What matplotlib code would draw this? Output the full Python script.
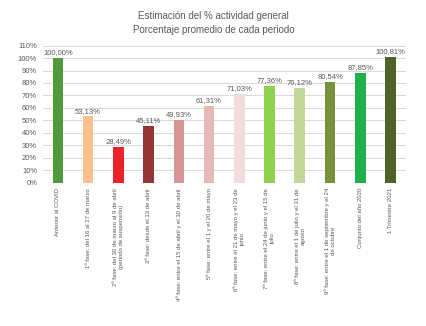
import numpy as np
import matplotlib.pyplot as plt

plt.rcParams['font.family'] = ['Liberation Sans', 'DejaVu Sans']

categorias = [
    "Anterior al COVID",
    "1ª fase: del 16 al 27 de marzo",
    "2ª fase: del 30 de marzo al 9 de abril\n(periodo de suspensión)",
    "3ª fase: desde el 13 de abril",
    "4ª fase: entre el 15 de abril y el 30 de abril",
    "5ª fase: entre el 1 y el 20 de mayo",
    "6ª fase: entre el 21 de mayo y el 23 de\njunio",
    "7ª fase: entre el 24 de junio y el 15 de\njulio",
    "8ª fase: entre el 1 de julio y el 31 de\nagosto",
    "9ª fase: entre el 1 de septiembre y el 24\nde octubre",
    "Conjunto del año 2020",
    "1 Trimestre 2021",
]
valores = [100.00, 53.13, 28.49, 45.11, 49.93, 61.31, 71.03, 77.36, 76.12, 80.54, 87.85, 100.81]
colores = ["#4F9A3A", "#FBC08F", "#E8242A", "#943634", "#D99594", "#E6B8B7",
           "#F2DCDB", "#92D050", "#C4D79B", "#76933C", "#1FB24B", "#4F6228"]

fig = plt.figure(figsize=(4.27, 3.26), dpi=100)
ax = fig.add_axes([0.10, 0.44, 0.85, 0.42])

x = np.arange(len(valores))
ax.bar(x, valores, width=0.35, color=colores, zorder=3)
for xi, v in zip(x, valores):
    ax.text(xi, v + 1.5, f"{v:.2f}%".replace(".", ","), ha="center", va="bottom",
            fontsize=5.5, color="#595959")

ax.set_ylim(0, 110)
ax.set_yticks(range(0, 111, 10))
ax.set_yticklabels([f"{t}%" for t in range(0, 111, 10)], fontsize=5.5, color="#595959")
ax.set_xlim(-0.5, len(valores) - 0.5)
ax.set_xticks(x)
ax.set_xticklabels(categorias, rotation=90, fontsize=4.3, color="#595959",
                   va="top", ha="center", multialignment="center")
ax.grid(axis="y", color="#D9D9D9", linewidth=0.7, zorder=0)
ax.tick_params(length=0, pad=4)
for s in ax.spines.values():
    s.set_visible(False)
ax.axhline(0, color="#D9D9D9", linewidth=0.8, zorder=2)

fig.suptitle("Estimación del % actividad general\nPorcentaje promedio de cada periodo",
             y=0.965, fontsize=7, color="#595959", linespacing=1.5)

fig.savefig("out.png", dpi=100)
